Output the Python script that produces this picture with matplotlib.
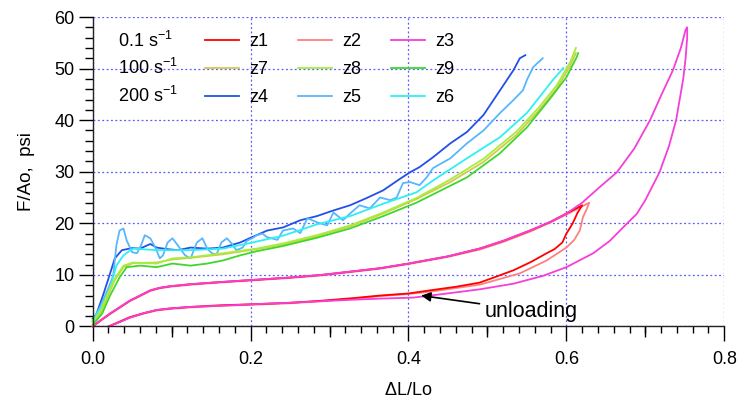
import numpy as np
import matplotlib
matplotlib.use('Agg')
import matplotlib.pyplot as plt
from matplotlib.ticker import MultipleLocator, FormatStrFormatter

plt.rcParams['font.family'] = ['Liberation Sans', 'DejaVu Sans']
plt.rcParams['mathtext.fontset'] = 'custom'
plt.rcParams['mathtext.rm'] = 'Liberation Sans'
plt.rcParams['mathtext.it'] = 'Liberation Sans'

# ---- data (strain dL/Lo, stress psi) ----
# 0.1 1/s : hysteresis loops (loading then unloading)
z1_x = [0.0, 0.01, 0.022, 0.035, 0.047, 0.06, 0.073, 0.085, 0.098, 0.124, 0.16, 0.2,
        0.25, 0.29, 0.33, 0.364, 0.4, 0.45, 0.49, 0.52, 0.554, 0.58, 0.6, 0.62,
        0.614, 0.608, 0.6, 0.595, 0.585, 0.575, 0.555, 0.533, 0.51, 0.49, 0.46,
        0.427, 0.4, 0.364, 0.33, 0.29, 0.25, 0.2, 0.16, 0.124, 0.098, 0.081,
        0.065, 0.047, 0.035, 0.02]
z1_y = [0.0, 1.2, 2.5, 3.8, 5.0, 6.0, 7.0, 7.5, 7.8, 8.2, 8.6, 9.0,
        9.5, 10.0, 10.7, 11.3, 12.2, 13.6, 15.1, 16.6, 18.6, 20.3, 21.9, 23.5,
        22.0, 20.0, 18.0, 16.3, 15.0, 14.2, 12.5, 10.9, 9.6, 8.5, 7.7,
        7.0, 6.4, 6.0, 5.5, 5.0, 4.6, 4.3, 4.1, 3.8, 3.5, 3.2,
        2.6, 1.8, 1.0, 0.0]

z2_x = [0.0, 0.01, 0.022, 0.035, 0.047, 0.06, 0.073, 0.085, 0.098, 0.124, 0.16, 0.2,
        0.25, 0.29, 0.33, 0.364, 0.4, 0.45, 0.49, 0.52, 0.554, 0.58, 0.6, 0.629,
        0.625, 0.621, 0.617, 0.61, 0.6, 0.575, 0.541, 0.49, 0.43, 0.4, 0.364,
        0.33, 0.29, 0.25, 0.2, 0.16, 0.124, 0.098, 0.081, 0.065, 0.047, 0.035, 0.02]
z2_y = [0.0, 1.1, 2.4, 3.7, 4.9, 5.9, 6.9, 7.4, 7.7, 8.1, 8.5, 8.9,
        9.4, 9.9, 10.6, 11.2, 12.1, 13.5, 14.9, 16.4, 18.4, 20.2, 21.7, 24.0,
        22.5, 21.2, 18.6, 16.8, 15.3, 12.8, 10.3, 8.1, 6.8, 6.3, 5.9,
        5.4, 4.9, 4.5, 4.2, 4.0, 3.7, 3.4, 3.1, 2.5, 1.7, 0.9, 0.0]

z3_x = [0.0, 0.01, 0.022, 0.035, 0.047, 0.06, 0.073, 0.085, 0.098, 0.124, 0.16, 0.2,
        0.25, 0.29, 0.33, 0.364, 0.4, 0.45, 0.49, 0.52, 0.554, 0.58, 0.6, 0.62,
        0.642, 0.664, 0.686, 0.706, 0.72, 0.735, 0.745, 0.751, 0.753,
        0.753, 0.751, 0.748, 0.739, 0.73, 0.718, 0.7, 0.689, 0.677, 0.655, 0.634,
        0.6, 0.57, 0.533, 0.49, 0.449, 0.406, 0.364, 0.33, 0.29, 0.25, 0.2, 0.16,
        0.124, 0.098, 0.081, 0.065, 0.047, 0.035, 0.02]
z3_y = [0.0, 1.2, 2.5, 3.8, 5.0, 6.0, 7.0, 7.5, 7.8, 8.2, 8.6, 9.0,
        9.5, 10.0, 10.7, 11.3, 12.2, 13.6, 15.1, 16.6, 18.6, 20.3, 21.9, 24.0,
        27.0, 29.9, 34.5, 40.0, 44.8, 49.7, 54.0, 57.5, 58.0,
        56.0, 52.0, 48.0, 40.0, 35.0, 29.9, 24.5, 21.8, 20.0, 16.6, 14.2,
        11.5, 9.8, 8.3, 7.2, 6.4, 5.6, 5.4, 5.2, 4.9, 4.6, 4.3, 4.0,
        3.8, 3.5, 3.2, 2.6, 1.7, 0.9, 0.0]

# 200 1/s
z4_x = [0.0, 0.005, 0.013, 0.02, 0.028, 0.037, 0.05, 0.06, 0.073, 0.081, 0.094, 0.108,
        0.124, 0.145, 0.165, 0.187, 0.2, 0.221, 0.241, 0.263, 0.284, 0.305, 0.326,
        0.347, 0.368, 0.389, 0.402, 0.414, 0.431, 0.453, 0.474, 0.495, 0.516,
        0.533, 0.541, 0.548]
z4_y = [1.5, 2.5, 6.0, 9.3, 13.2, 14.8, 15.2, 15.1, 16.0, 15.3, 15.0, 14.8,
        15.3, 15.1, 15.3, 16.3, 17.2, 18.6, 19.2, 20.6, 21.4, 22.5, 23.5,
        24.9, 26.4, 28.6, 29.9, 30.9, 32.8, 35.5, 37.7, 41.0, 45.8,
        49.7, 52.0, 52.6]

z5_x = [0.0, 0.01, 0.02, 0.026, 0.03, 0.034, 0.039, 0.043, 0.05, 0.056, 0.061, 0.066,
        0.073, 0.08, 0.085, 0.089, 0.095, 0.101, 0.108, 0.117, 0.124, 0.132, 0.139,
        0.145, 0.151, 0.157, 0.163, 0.17, 0.176, 0.182, 0.19, 0.195, 0.202, 0.208,
        0.215, 0.221, 0.234, 0.241, 0.254, 0.263, 0.272, 0.284, 0.297, 0.305, 0.317,
        0.326, 0.338, 0.351, 0.364, 0.377, 0.385, 0.393, 0.402, 0.414, 0.423, 0.431,
        0.453, 0.474, 0.495, 0.516, 0.533, 0.545, 0.55, 0.558, 0.57]
z5_y = [1.0, 4.0, 7.5, 9.9, 15.7, 18.6, 19.0, 16.7, 14.4, 14.2, 15.6, 17.7,
        17.1, 15.1, 13.2, 13.8, 16.3, 17.1, 15.7, 13.8, 13.2, 16.3, 17.1,
        15.1, 14.2, 14.0, 16.3, 17.1, 16.1, 14.8, 15.3, 16.6, 17.1, 17.7,
        18.0, 17.3, 16.8, 18.6, 19.0, 18.1, 21.0, 20.2, 19.6, 22.1, 20.6,
        21.9, 23.5, 22.9, 25.0, 24.5, 25.0, 27.8, 28.0, 27.4, 28.9, 30.7,
        32.6, 35.5, 38.0, 41.4, 43.9, 45.8, 47.8, 50.3, 52.0]

z6_x = [0.0, 0.01, 0.022, 0.03, 0.039, 0.051, 0.081, 0.124, 0.165, 0.2, 0.241, 0.284,
        0.326, 0.368, 0.389, 0.41, 0.431, 0.474, 0.516, 0.55, 0.566, 0.583, 0.596]
z6_y = [1.2, 3.5, 7.4, 11.8, 13.8, 15.1, 14.8, 14.8, 15.1, 16.2, 17.6, 19.8,
        21.4, 23.8, 24.9, 26.0, 28.3, 32.6, 36.7, 41.4, 44.5, 47.8, 50.1]

# 100 1/s
z7_x = [0.0, 0.01, 0.018, 0.028, 0.039, 0.051, 0.081, 0.101, 0.124, 0.165, 0.208, 0.241,
        0.284, 0.326, 0.368, 0.41, 0.453, 0.495, 0.537, 0.566, 0.588, 0.605, 0.612]
z7_y = [0.5, 2.5, 5.5, 9.0, 11.5, 12.3, 12.4, 13.0, 13.3, 14.0, 15.0, 15.9,
        17.5, 19.4, 21.9, 24.7, 28.0, 31.9, 37.2, 42.0, 46.2, 50.6, 53.0]

z8_x = [0.0, 0.01, 0.018, 0.028, 0.039, 0.051, 0.081, 0.101, 0.124, 0.165, 0.208, 0.241,
        0.284, 0.326, 0.368, 0.41, 0.453, 0.495, 0.537, 0.566, 0.588, 0.605, 0.612]
z8_y = [0.8, 3.0, 6.0, 9.3, 11.8, 12.4, 12.2, 13.2, 13.4, 14.2, 15.1, 16.1,
        17.7, 19.6, 22.1, 24.9, 28.5, 32.5, 37.8, 42.6, 46.8, 51.3, 54.0]

z9_x = [0.0, 0.012, 0.022, 0.034, 0.043, 0.06, 0.081, 0.101, 0.124, 0.145, 0.165, 0.187,
        0.208, 0.241, 0.284, 0.326, 0.368, 0.41, 0.431, 0.474, 0.516, 0.55, 0.58,
        0.6, 0.613, 0.615]
z9_y = [0.3, 2.5, 6.0, 9.5, 11.5, 11.8, 11.5, 12.2, 11.8, 12.2, 12.8, 13.8,
        14.6, 15.6, 17.2, 19.0, 21.4, 24.0, 25.6, 28.9, 33.6, 38.6, 44.3,
        48.3, 52.2, 53.0]

rates = ['0.1 s$^{-1}$', '100 s$^{-1}$', '200 s$^{-1}$']
names = [['z1', 'z2', 'z3'], ['z7', 'z8', 'z9'], ['z4', 'z5', 'z6']]
colors = {'z1': '#ff0000', 'z2': '#ff8080', 'z3': '#f43fd8',
          'z7': '#d4c84a', 'z8': '#a6ee3c', 'z9': '#3ed82a',
          'z4': '#2250e6', 'z5': '#58b6ff', 'z6': '#2ef0f0'}
series = {'z1': (z1_x, z1_y), 'z2': (z2_x, z2_y), 'z3': (z3_x, z3_y),
          'z4': (z4_x, z4_y), 'z5': (z5_x, z5_y), 'z6': (z6_x, z6_y),
          'z7': (z7_x, z7_y), 'z8': (z8_x, z8_y), 'z9': (z9_x, z9_y)}
draw_order = ['z2', 'z1', 'z3', 'z4', 'z5', 'z6', 'z7', 'z8', 'z9']


def plot():
    fig = plt.figure(figsize=(7.38, 4.01), dpi=100)
    ax = fig.add_axes([0.1256, 0.1858, 0.8558, 0.7718])

    lines = {}
    for name in draw_order:
        x, y = series[name]
        ln, = ax.plot(x, y, color=colors[name], lw=1.3, clip_on=False, label=name)
        lines[name] = ln

    ax.set_xlim(0, 0.8)
    ax.set_ylim(0, 60)

    ax.xaxis.set_major_locator(MultipleLocator(0.2))
    ax.xaxis.set_minor_locator(MultipleLocator(0.02))
    ax.xaxis.set_major_formatter(FormatStrFormatter('%.1f'))
    ax.yaxis.set_major_locator(MultipleLocator(10))
    ax.yaxis.set_minor_locator(MultipleLocator(2))

    ax.tick_params(axis='x', which='major', length=10.8, width=1.0, pad=7, labelsize=13)
    ax.tick_params(axis='x', which='minor', length=5, width=1.0)
    ax.tick_params(axis='y', which='major', length=10, width=1.0, pad=3, labelsize=13)
    ax.tick_params(axis='y', which='minor', length=5.8, width=1.0)

    # medium ticks at the odd tenths
    sec = ax.secondary_xaxis('bottom')
    sec.set_xticks([0.1, 0.3, 0.5, 0.7])
    sec.tick_params(length=8, width=1.0, labelbottom=False)
    sec.spines['bottom'].set_visible(False)

    for s in ['top', 'right']:
        ax.spines[s].set_visible(False)
    for s in ['left', 'bottom']:
        ax.spines[s].set_linewidth(1.0)
        ax.spines[s].set_color('#222222')

    ax.grid(True, which='major', color='#5a5aff', linestyle=(0, (1.5, 2.0)), linewidth=0.9)
    ax.set_axisbelow(True)

    ax.set_xlabel('$\\Delta$L/Lo', fontsize=13)
    ax.set_ylabel('F/Ao,  psi', fontsize=13.5)
    ax.xaxis.set_label_coords(0.5, -0.18)
    ax.yaxis.set_label_coords(-0.092, 0.5)

    # legend: rows are strain rates, columns are samples
    order = [names[r][c] for c in range(3) for r in range(3)]
    ax.legend([lines[n] for n in order], order, ncol=3, frameon=False,
              loc='upper left', bbox_to_anchor=(0.178, 0.947), fontsize=13,
              handlelength=1.9, handletextpad=0.55, columnspacing=1.65,
              labelspacing=0.6, borderpad=0, borderaxespad=0)
    for r, txt in enumerate(rates):
        ax.text(0.04, 0.922 - r * 0.088, txt, transform=ax.transAxes,
                fontsize=13, va='center', ha='left')

    ax.annotate('unloading', xy=(0.416, 6.0), xytext=(0.497, 3.0),
                fontsize=15.5, va='center', ha='left',
                arrowprops=dict(arrowstyle='-|>', color='black', lw=1.2,
                                mutation_scale=14, shrinkA=2, shrinkB=0))
    return fig


if __name__ == '__main__':
    fig = plot()
    fig.savefig('out.png', dpi=100)
